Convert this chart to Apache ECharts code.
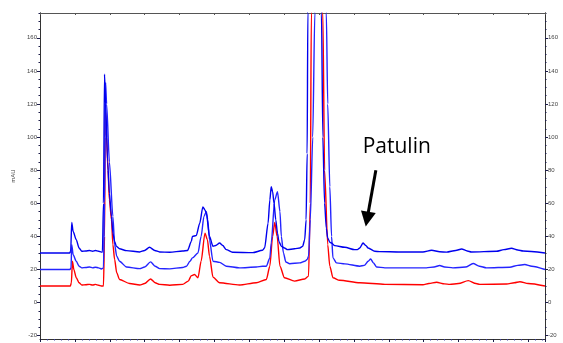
<!DOCTYPE html>
<html>
<head>
<meta charset="utf-8">
<script src="https://cdn.jsdelivr.net/npm/echarts@6/dist/echarts.min.js"></script>
<style>
html,body{margin:0;padding:0;background:#fff;}
#chart{width:563px;height:343px;}
</style>
</head>
<body>
<div id="chart"></div>
<script>
// Time axis (min), unlabeled in the reference
const xMin = 0, xMax = 14.48, xInterval = 1;
// Y axis (mAU)
const yMin = -22, yMax = 175;
const yTickLabels = [-20, 0, 20, 40, 60, 80, 100, 120, 140, 160];
const yMinorTicks = [-20,-15,-10,-5,0,5,10,15,20,25,30,35,40,45,50,55,60,65,70,75,80,85,90,95,100,105,110,115,120,125,130,135,140,145,150,155,160,165,170,175];

// Trace 1 (blue, offset 30)
const topTime = [0,0.85,0.88,0.91,0.95,1.04,1.12,1.20,1.31,1.42,1.51,1.59,1.68,1.76,1.79,1.82,1.85,1.88,1.94,1.99,2.05,2.09,2.14,2.19,2.28,2.48,2.86,3.00,3.14,3.29,3.43,3.72,4.09,4.23,4.34,4.37,4.48,4.58,4.67,4.73,4.77,4.86,4.96,5.04,5.15,5.24,5.34,5.52,6.10,6.38,6.44,6.54,6.59,6.63,6.67,6.71,6.76,6.81,6.85,6.92,7.01,7.10,7.30,7.45,7.53,7.59,7.63,7.66,7.68,7.72,7.88,8.03,8.07,8.11,8.16,8.21,8.25,8.31,8.36,8.45,8.74,9.02,9.10,9.17,9.26,9.34,9.41,9.60,9.74,10.32,10.98,11.23,11.46,11.66,11.92,12.09,12.25,12.37,13.09,13.30,13.52,13.70,13.85,14.48];
const topValue = [30,30,31,48.5,43,38,33,31,31.2,31.5,31,31.5,31,30.5,30.5,60,138,120,85,66,52,42,37,34,32.5,31.4,30.6,31.5,33.4,31.5,30.6,30.4,31.2,31.5,37,40,40.5,48,57.8,56,54,40,34,34.5,36,34.5,32,30.4,30.2,31.6,33,48,62,70,67,60,50,42,37,34,33,32,32.5,33,34,38,50,90,175,300,420,300,175,100,60,45,39,36.5,36,34.4,33.4,32,32,33,36,34.5,33,31,30.8,30.6,30.6,31.6,30.7,30.5,31.5,32.4,31.2,30.6,31,32,32.8,31.8,31.2,30];

// Trace 2 (blue, offset 20)
const midTime = [0,0.86,0.89,0.91,0.95,1.04,1.12,1.20,1.31,1.42,1.51,1.59,1.68,1.76,1.82,1.85,1.88,1.91,1.99,2.09,2.14,2.20,2.28,2.48,2.86,3.00,3.17,3.30,3.43,3.72,4.09,4.20,4.30,4.37,4.53,4.62,4.70,4.77,4.81,4.86,4.96,5.15,5.34,5.72,6.20,6.38,6.49,6.59,6.63,6.73,6.81,6.88,6.92,6.98,7.05,7.16,7.45,7.59,7.66,7.70,7.75,7.82,7.88,8.05,8.21,8.25,8.31,8.36,8.40,8.50,8.74,9.17,9.30,9.41,9.48,9.56,9.65,9.89,11.08,11.30,11.46,11.60,11.84,12.20,12.42,12.60,12.80,13.47,13.70,13.90,14.10,14.48];
const midValue = [20,20,21,35,29,25,22,21,21.2,21.5,21,21.4,21,20.3,21,60,133,120,85,52,35,28,25,21.5,20.5,21.5,24.6,22,20.5,20.4,21.2,22,25,27,30,40,52,55,50,38,25,24.3,22,21,21.5,22,22,27,36,62,67,55,40,30,24.5,23.5,24,25,26,28,50,100,175,350,175,120,70,40,27,24,23.4,22,22.5,25,26.4,24,21.5,21,21,21.5,22.4,21.5,21,21.5,23.6,22,21,21.4,22.5,23,22,20];

// Trace 3 (red, offset 10)
const redTime = [0,0.87,0.90,0.93,0.97,1.04,1.12,1.20,1.31,1.42,1.51,1.59,1.68,1.76,1.82,1.85,1.87,1.88,1.91,1.95,1.99,2.05,2.09,2.14,2.20,2.28,2.57,2.86,3.00,3.17,3.30,3.43,3.72,4.09,4.25,4.34,4.43,4.53,4.62,4.73,4.80,4.86,4.96,5.15,5.72,6.20,6.49,6.59,6.67,6.73,6.80,6.88,7.01,7.30,7.59,7.70,7.75,7.78,7.95,8.11,8.16,8.25,8.31,8.40,8.59,9.17,9.89,10.98,11.15,11.37,11.60,11.75,12.00,12.28,12.50,12.61,13.38,13.60,13.76,14.00,14.48];
const redValue = [10,10,12,25,20,15,12,10.6,10.8,11,10.6,11,10.5,10,10,40,100,115,100,80,62,50,35,26,18,14,11.5,10.6,11.5,14.3,12,11,10.5,11,13,16.3,17,15,25,42,38,28,15.4,12,10.6,12,14,22,40,48.5,40,22,15,13,14.3,16,60,175,380,175,80,35,22,15,13.5,12,11,10.8,11.5,12.3,11.3,11,11.5,13.3,11.5,11,11.2,12,12.6,11.5,10];

// Annotation (data coordinates)
const annotationText = 'Patulin';
const annotationAt = [10.23, 94];
const arrowStart = [9.63, 80];
const arrowEnd = [9.34, 46];

function zip(t, v) { return t.map((x, i) => [x, v[i]]); }

const chart = echarts.init(document.getElementById('chart'), null, {renderer: 'canvas'});
const axisColor = '#333';
const tickColor = '#1c1c4a';
const labelStyle = {fontSize: 6, color: '#444', fontFamily: 'Liberation Sans'};

function yAxisDef(pos, withLabels, ticks, len) {
  return {
    type: 'value', position: pos, min: yMin, max: yMax,
    axisLine: {show: true, lineStyle: {color: axisColor, width: 1}},
    axisTick: {show: true, customValues: ticks, length: len, lineStyle: {color: tickColor}},
    axisLabel: withLabels ? Object.assign({show: true, customValues: yTickLabels, margin: 3}, labelStyle) : {show: false},
    splitLine: {show: false}
  };
}

const lineBase = {
  type: 'line', showSymbol: false, symbol: 'none', smooth: 0.25, smoothMonotone: 'x',
  clip: true, xAxisIndex: 0, yAxisIndex: 0, silent: true
};

chart.setOption({
  animation: false,
  backgroundColor: '#fff',
  grid: {left: 40, right: 18, top: 13, bottom: 4, containLabel: false},
  xAxis: [
    {type: 'value', position: 'bottom', min: xMin, max: xMax, interval: xInterval,
     axisLine: {show: true, onZero: false, lineStyle: {color: axisColor}},
     axisTick: {show: true, length: 3, lineStyle: {color: tickColor}},
     minorTick: {show: true, splitNumber: 5, length: 1.5, lineStyle: {color: '#3a3aa0'}},
     axisLabel: {show: false}, splitLine: {show: false}},
    {type: 'value', position: 'top', min: xMin, max: xMax, interval: xInterval,
     axisLine: {show: true, onZero: false, lineStyle: {color: '#555'}},
     axisTick: {show: true, inside: true, length: 2, lineStyle: {color: '#555'}},
     axisLabel: {show: false}, splitLine: {show: false}}
  ],
  yAxis: [
    Object.assign(yAxisDef('left', true, yTickLabels, 3), {
      name: 'mAU', nameLocation: 'middle', nameGap: 21, nameRotate: 90,
      nameTextStyle: {fontSize: 6, color: '#444', fontFamily: 'Liberation Sans'}
    }),
    yAxisDef('left', false, yMinorTicks, 1.5),
    yAxisDef('right', true, yTickLabels, 3),
    yAxisDef('right', false, yMinorTicks, 1.5)
  ],
  series: [
    Object.assign({}, lineBase, {name: 'red', data: zip(redTime, redValue),
      lineStyle: {color: '#ff0000', width: 1.4}, itemStyle: {color: '#ff0000'}}),
    Object.assign({}, lineBase, {name: 'mid', data: zip(midTime, midValue),
      lineStyle: {color: '#2424ff', width: 1.4}, itemStyle: {color: '#2424ff'}}),
    Object.assign({}, lineBase, {name: 'top', data: zip(topTime, topValue),
      lineStyle: {color: '#0000ee', width: 1.4}, itemStyle: {color: '#0000ee'}})
  ]
});

// Annotation arrow and label, positioned through the chart's own scales
const ps = chart.convertToPixel({gridIndex: 0}, arrowStart);
const pe = chart.convertToPixel({gridIndex: 0}, arrowEnd);
const pt = chart.convertToPixel({gridIndex: 0}, annotationAt);
const dx = pe[0] - ps[0], dy = pe[1] - ps[1];
const len = Math.sqrt(dx * dx + dy * dy);
const ux = dx / len, uy = dy / len;
const headLen = 15, headHalf = 7.5;
const bx = pe[0] - ux * headLen, by = pe[1] - uy * headLen;
chart.setOption({
  graphic: [
    {type: 'line', silent: true, shape: {x1: ps[0], y1: ps[1], x2: bx + ux * 1, y2: by + uy * 1},
     style: {stroke: '#000', lineWidth: 3}},
    {type: 'polygon', silent: true,
     shape: {points: [[pe[0], pe[1]], [bx - uy * headHalf, by + ux * headHalf], [bx + uy * headHalf, by - ux * headHalf]]},
     style: {fill: '#000'}},
    {type: 'text', silent: true, x: pt[0], y: pt[1],
     style: {text: annotationText, fontSize: 21, fontFamily: 'Open Sans', fill: '#000',
             align: 'center', verticalAlign: 'middle'}}
  ]
});
</script>
</body>
</html>
